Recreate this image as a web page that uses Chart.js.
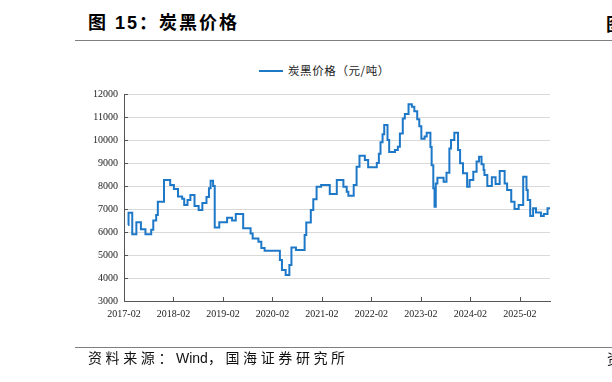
<!DOCTYPE html>
<html><head><meta charset="utf-8">
<script src="https://cdn.jsdelivr.net/npm/chart.js@4.4.1/dist/chart.umd.min.js"></script>
<style>
html,body{margin:0;padding:0;width:612px;height:382px;overflow:hidden;background:#fff;}
#wrap{position:absolute;left:0;top:0;width:612px;height:382px;}
.t{position:absolute;white-space:nowrap;color:#000;line-height:1;}
#title{left:88px;top:14px;font-family:"Liberation Sans","Noto Sans CJK SC",sans-serif;font-size:18px;font-weight:bold;letter-spacing:2px;}
#titleR{left:606px;top:14px;font-family:"Noto Sans CJK SC",sans-serif;font-size:18px;font-weight:bold;}
.rule{position:absolute;left:75px;width:537px;height:0;border-top:1.5px solid #7f7f7f;}
#legend{left:259px;top:65px;font-family:"Noto Sans CJK SC",sans-serif;font-size:11.5px;letter-spacing:0.6px;color:#222;}
#legend span.sw{display:inline-block;width:24px;height:2px;background:#1e78c8;vertical-align:middle;margin-right:5px;position:relative;top:-1px;}
#foot{left:88px;top:351px;font-family:"Liberation Sans","Noto Sans CJK SC",sans-serif;font-size:14px;color:#111;}
#foot .cj{letter-spacing:3.6px;}
#footR{left:607px;top:351px;font-family:"Noto Sans CJK SC",sans-serif;font-size:14px;color:#111;}
canvas{position:absolute;left:0;top:0;}
</style></head>
<body>
<div id="wrap">
<div class="t" id="title">图 15：炭黑价格</div>
<div class="t" id="titleR">图</div>
<div class="rule" style="top:40px"></div>
<div class="t" id="legend"><span class="sw"></span><span id="legText"></span></div>
<canvas id="c" width="612" height="382"></canvas>
<div class="rule" style="top:347px"></div>
<div class="t" id="foot"><span class="cj">资料来源：</span>Wind<span class="cj">，国海证券研究所</span></div>
<div class="t" id="footR">资</div>
</div>
<script>
const seriesName = '炭黑价格（元/吨）';
const xTickLabels = ['2017-02','2018-02','2019-02','2020-02','2021-02','2022-02','2023-02','2024-02','2025-02'];
const yMin = 3000, yMax = 12000, yStep = 1000;

// start date of each price level (weekly series shown as steps)
const dates = [
'2017-03-01','2017-03-04','2017-04-01','2017-05-01','2017-06-04','2017-07-07','2017-08-19','2017-09-04','2017-09-25','2017-10-07',
'2017-11-22','2018-01-07','2018-02-04','2018-03-04','2018-04-04','2018-04-19','2018-05-13','2018-06-04','2018-07-04','2018-08-04',
'2018-09-01','2018-10-01','2018-10-19','2018-11-01','2018-11-19','2018-12-01','2019-01-04','2019-03-01','2019-04-07','2019-05-04',
'2019-06-28','2019-08-22','2019-09-07','2019-10-19','2019-11-10','2019-12-04','2020-03-25','2020-04-10','2020-05-07','2020-06-04',
'2020-06-19','2020-07-22','2020-09-25','2020-10-07','2020-11-10','2020-11-28','2020-12-22','2021-01-25','2021-03-28','2021-05-19',
'2021-07-07','2021-08-01','2021-08-13','2021-09-22','2021-10-13','2021-11-04','2021-12-13','2022-01-07','2022-03-10','2022-03-25',
'2022-04-07','2022-04-22','2022-05-04','2022-05-28','2022-06-10','2022-07-22','2022-08-13','2022-08-28','2022-09-19','2022-10-04',
'2022-11-01','2022-11-25','2022-12-13','2023-01-04','2023-01-19','2023-02-04','2023-02-28','2023-03-13','2023-04-10','2023-04-19',
'2023-05-01','2023-05-10','2023-05-19','2023-06-01','2023-07-16','2023-08-07','2023-08-28','2023-09-10','2023-10-04','2023-11-01',
'2023-11-16','2023-12-07','2024-01-07','2024-01-25','2024-02-22','2024-03-16','2024-04-04','2024-04-22','2024-05-07','2024-05-13',
'2024-06-04','2024-07-07','2024-08-04','2024-09-04','2024-10-10','2024-10-28','2024-11-28','2024-12-22','2025-01-22','2025-02-25',
'2025-03-19','2025-03-28','2025-04-16','2025-05-07','2025-05-28','2025-07-04','2025-07-25','2025-08-22','2025-09-10'
];
const values = [
6300,6840,5900,6420,6120,5900,6100,6500,6740,7320,
8260,8040,7870,7540,7450,7170,7390,7610,7130,6960,
7260,7520,7900,8230,8000,6200,6420,6620,6500,6780,
6160,5940,5720,5580,5300,5190,4780,4350,4130,4570,
5330,5220,5870,6410,6960,7420,7970,8040,7650,8260,
7970,7750,7580,8040,8840,9320,9130,8810,9000,9400,
9900,10250,10650,10000,9480,9560,9710,10280,10940,11130,
11550,11450,11250,10900,10600,10050,10150,10320,9700,8900,
7900,7100,8110,8360,8190,8580,9630,10000,10320,9570,
8990,8550,7970,8260,8620,9060,9270,8950,8700,8480,
8000,8380,8090,8650,8110,7830,7320,7000,7170,8400,
7830,7390,6700,7030,6850,6700,6780,7030,7030
];

function monthIndex(s){ const p = s.split('-').map(Number); return (p[0]-2017)*12 + (p[1]-2) + ((p[2]||1)-1)/30; }
const points = dates.map((d,i)=>({x:monthIndex(d), y:values[i]}));
const xTickVals = xTickLabels.map(monthIndex);

document.getElementById('legText').textContent = seriesName;

const tickMarks = {
  id:'tickMarks',
  beforeDatasetsDraw(chart){
    const {ctx, chartArea:a, scales:{x,y}} = chart;
    ctx.save(); ctx.strokeStyle='#555'; ctx.lineWidth=1; ctx.beginPath();
    y.ticks.forEach(t=>{const py=Math.round(y.getPixelForValue(t.value))+0.5; ctx.moveTo(a.left,py); ctx.lineTo(a.left+4,py);});
    x.ticks.forEach(t=>{const px=Math.round(x.getPixelForValue(t.value))+0.5; ctx.moveTo(px,a.bottom); ctx.lineTo(px,a.bottom-4);});
    ctx.stroke(); ctx.restore();
  }
};

new Chart(document.getElementById('c'), {
  type:'line',
  data:{datasets:[{label:seriesName, data:points, borderColor:'#1e78c8', borderWidth:2, pointRadius:0, stepped:'before', fill:false}]},
  options:{
    responsive:false, animation:false, devicePixelRatio:1,
    layout:{padding:{left:0, top:94, right:62, bottom:0}},
    plugins:{legend:{display:false}, tooltip:{enabled:false}},
    scales:{
      x:{type:'linear', min:0, max:points[points.length-1].x,
        afterFit(s){ s.height = 81; },
        afterBuildTicks(s){ s.ticks = xTickVals.map(v=>({value:v})); },
        ticks:{autoSkip:false, maxRotation:0, padding:7, color:'#222',
          font:{family:'"Liberation Serif", serif', size:10},
          callback:(v)=>{ const i = xTickVals.findIndex(t=>Math.abs(t-v)<1e-6); return i>=0 ? xTickLabels[i] : ''; }},
        grid:{drawOnChartArea:false, drawTicks:false},
        border:{display:true, color:'#555', width:1}},
      y:{min:yMin, max:yMax,
        afterFit(s){ s.width = 124; },
        ticks:{stepSize:yStep, padding:6, color:'#222', font:{family:'"Liberation Serif", serif', size:10},
          callback:(v)=>String(v)},
        grid:{color:'#d9d9d9', drawTicks:false},
        border:{display:true, color:'#555', width:1}}
    }
  },
  plugins:[tickMarks]
});
</script>
</body></html>
